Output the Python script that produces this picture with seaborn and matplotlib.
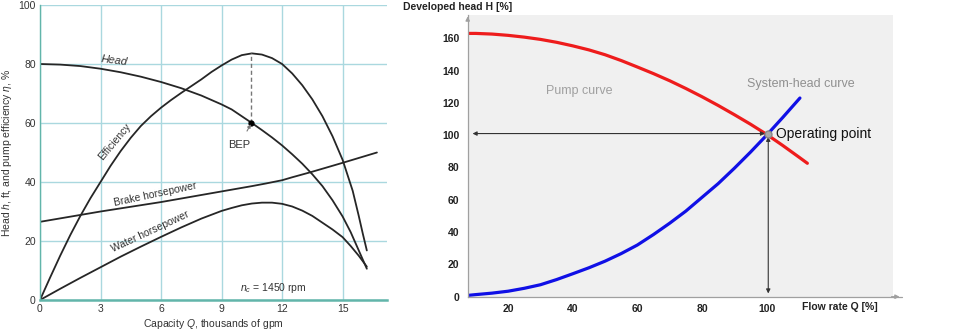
import matplotlib
matplotlib.use("Agg")
import matplotlib.pyplot as plt
import seaborn as sns

# --- Left panel: pump characteristics (Q in thousands of gpm) ---
HEAD_Q = [0, 1, 2, 3, 4, 5, 6, 7, 8, 9, 9.5, 10, 10.5, 11, 11.5, 12, 12.5, 13, 13.5, 14,
          14.5, 15, 15.4, 15.8, 16.2]
HEAD = [80, 79.8, 79.3, 78.4, 77.2, 75.7, 73.9, 71.8, 69.3, 66.3, 64.6, 62.3, 60, 57.6, 55.1,
        52.4, 49.4, 46.2, 42.6, 38.6, 33.8, 28.3, 23, 16.8, 10.6]

EFF_Q = [0, 0.5, 1, 1.5, 2, 2.5, 3, 3.5, 4, 4.5, 5, 5.5, 6, 6.5, 7, 7.5, 8, 8.5, 9, 9.5,
         10, 10.5, 11, 11.5, 12, 12.5, 13, 13.5, 14, 14.5, 15, 15.5, 15.8, 16.0, 16.2]
EFF = [0, 7.6, 15, 22, 28.5, 34.5, 40, 45.5, 50.5, 55, 59, 62.3, 65.2, 67.8, 70.2, 72.5,
       74.8, 77.3, 79.5, 81.5, 83, 83.6, 83.2, 82, 80, 76.8, 72.8, 68, 62.3, 55.5, 47.5, 37,
       28.5, 22.5, 16.8]

BHP_Q = [0, 2.06, 3, 6, 9, 10.5, 11.2, 12, 12.5, 13.4, 15, 16.7]
BHP = [26.5, 28.9, 30, 33.2, 36.8, 38.6, 39.5, 40.6, 41.6, 43.3, 46.5, 50]

WHP_Q = [0, 1, 2, 3, 4, 5, 6, 7, 8, 9, 9.5, 10, 10.5, 11, 11.5, 12, 12.5, 13, 13.5, 14,
         14.5, 15, 15.4, 15.8, 16.2]
WHP = [0, 3.8, 7.5, 11.1, 14.7, 18.1, 21.4, 24.6, 27.6, 30.2, 31.2, 32.1, 32.7, 33, 33,
       32.6, 31.7, 30.3, 28.5, 26.2, 23.9, 21.3, 18.3, 15, 11.3]

BEP_Q, BEP_HEAD, BEP_EFF = 10.48, 60, 83.6
LEFT_XTICKS = [0, 3, 6, 9, 12, 15]
LEFT_YTICKS = [0, 20, 40, 60, 80, 100]

# --- Right panel: pump curve vs system-head curve (%) ---
PUMP_Q = [7.5, 10, 15, 20, 25, 30, 35, 40, 45, 50, 55, 60, 65, 70, 75, 80, 85, 90, 95,
          100, 105, 110, 112.6]
PUMP_H = [163, 163, 162.6, 161.8, 160.7, 159.3, 157.5, 155.3, 152.8, 149.8, 146.2, 142.2,
          138.1, 133.7, 128.9, 123.8, 118.4, 112.7, 106.8, 100.5, 93.6, 86.4, 82.6]

SYS_Q = [7.5, 10, 15, 20, 25, 30, 35, 40, 45, 50, 55, 60, 65, 70, 75, 80, 85, 90, 95,
         100, 105, 110.3]
SYS_H = [0.8, 1.3, 2.2, 3.4, 5.2, 7.4, 10.6, 14.2, 17.9, 22, 26.7, 32, 38.5, 45.5, 53,
         61.5, 70, 79.5, 89.5, 100, 111, 123]

OP_Q, OP_H = 100.5, 101
RIGHT_XTICKS = [20, 40, 60, 80, 100]
RIGHT_YTICKS = [0, 20, 40, 60, 80, 100, 120, 140, 160]

sns.set_style("white")
plt.rcParams['font.family'] = ['Liberation Sans', 'DejaVu Sans']
plt.rcParams['mathtext.fontset'] = 'custom'
plt.rcParams['mathtext.rm'] = 'Liberation Sans'
plt.rcParams['mathtext.it'] = 'Liberation Sans:italic'
plt.rcParams['lines.solid_joinstyle'] = 'round'

fig = plt.figure(figsize=(9.7, 3.34), dpi=100)

# ---------------- Left panel ----------------
teal = '#62b5aa'
grid_col = '#aad8df'
txt = '#333333'
curve = '#262626'

ax1 = fig.add_axes([40 / 970, 34 / 334, 347 / 970, 295 / 334])
ax1.set_axisbelow(True)
for xv in LEFT_XTICKS:
    ax1.axvline(xv, color=grid_col, lw=1.0, zorder=0)
for yv in LEFT_YTICKS:
    ax1.axhline(yv, color=grid_col, lw=1.0, zorder=0)

for qs, vs in [(HEAD_Q, HEAD), (EFF_Q, EFF), (BHP_Q, BHP), (WHP_Q, WHP)]:
    sns.lineplot(x=qs, y=vs, ax=ax1, color=curve, linewidth=1.3)

ax1.plot([BEP_Q, BEP_Q], [BEP_HEAD, BEP_EFF], color='#777777', lw=1.0, ls=(0, (3, 2)))
ax1.plot([BEP_Q], [BEP_HEAD], 'o', color='black', ms=3.5)
ax1.annotate('BEP', xy=(BEP_Q, BEP_HEAD), xytext=(9.87, 52.4), ha='center', va='center',
             fontsize=8, color=txt,
             arrowprops=dict(arrowstyle='-|>', color='#777777', lw=0.8, shrinkA=5, shrinkB=1,
                             mutation_scale=5))

ax1.text(3.7, 81, 'Head', fontsize=8, style='italic', color=txt, rotation=-7,
         ha='center', va='center')
ax1.text(3.7, 53.5, 'Efficiency', fontsize=7.5, color=txt, rotation=50,
         ha='center', va='center')
ax1.text(5.73, 35.8, 'Brake horsepower', fontsize=7.5, color=txt, rotation=12,
         ha='center', va='center')
ax1.text(5.48, 23.3, 'Water horsepower', fontsize=7.5, color=txt, rotation=25,
         ha='center', va='center')
ax1.text(11.55, 4.2, '$n_c$ = 1450 rpm', fontsize=7.5, color=txt, ha='center', va='center')

ax1.set_xlim(0, 17.2)
ax1.set_ylim(0, 100)
ax1.set_xticks(LEFT_XTICKS)
ax1.set_yticks(LEFT_YTICKS)
ax1.tick_params(direction='in', length=3, color=teal, labelsize=7.5, labelcolor=txt, pad=3)
for s in ['top', 'right']:
    ax1.spines[s].set_visible(False)
ax1.spines['left'].set_color(teal)
ax1.spines['left'].set_linewidth(1.0)
ax1.spines['bottom'].set_color(teal)
ax1.spines['bottom'].set_linewidth(1.8)
ax1.set_xlabel('Capacity $Q$, thousands of gpm', fontsize=7.5, color=txt, labelpad=2)
ax1.set_ylabel('Head $h$, ft, and pump efficiency $\\eta$, %', fontsize=7.5, color=txt, labelpad=3)

# ---------------- Right panel ----------------
ax2 = fig.add_axes([467.7 / 970, 37.3 / 334, (893 - 467.7) / 970, (296.7 - 15) / 334])
ax2.set_facecolor('#f0f0f0')

sns.lineplot(x=PUMP_Q, y=PUMP_H, ax=ax2, color='#ee1c1c', linewidth=2.3)
sns.lineplot(x=SYS_Q, y=SYS_H, ax=ax2, color='#1010e6', linewidth=2.3)

arrow_kw = dict(arrowstyle='<|-|>', color='#333333', lw=0.8, mutation_scale=6,
                shrinkA=0, shrinkB=0)
ax2.annotate('', xy=(9, OP_H), xytext=(OP_Q - 1, OP_H), arrowprops=arrow_kw)
ax2.annotate('', xy=(OP_Q, 2), xytext=(OP_Q, OP_H - 2), arrowprops=arrow_kw)
ax2.plot([OP_Q], [OP_H], 'o', color='#a8a8a8', mec='#888888', ms=5, zorder=5)
ax2.text(OP_Q + 2.5, OP_H, 'Operating point', fontsize=10, color='#111111',
         ha='left', va='center')

ax2.text(42, 127.5, 'Pump curve', fontsize=9, color='#a0a0a0', ha='center', va='center')
ax2.text(110.6, 131.5, 'System-head curve', fontsize=9, color='#909090', ha='center', va='center')

ax2.set_xlim(7.5, 139.1)
ax2.set_ylim(0, 174.4)
ax2.set_xticks(RIGHT_XTICKS)
ax2.set_yticks(RIGHT_YTICKS)
ax2.tick_params(axis='x', length=0, pad=5, labelsize=7.5)
ax2.tick_params(axis='y', length=3, color='#999999', pad=3, labelsize=7.5)
for lab in ax2.get_xticklabels() + ax2.get_yticklabels():
    lab.set_fontweight('bold')
    lab.set_color('#222222')
for s in ['top', 'right']:
    ax2.spines[s].set_visible(False)
for s in ['left', 'bottom']:
    ax2.spines[s].set_color('#a0a0a0')
    ax2.spines[s].set_linewidth(0.9)

# axis arrowheads
ax2.annotate('', xy=(1.022, 0), xytext=(0.99, 0), xycoords='axes fraction',
             arrowprops=dict(arrowstyle='-|>', color='#a0a0a0', lw=0.9, mutation_scale=6),
             annotation_clip=False)
ax2.annotate('', xy=(0, 1.005), xytext=(0, 0.97), xycoords='axes fraction',
             arrowprops=dict(arrowstyle='-|>', color='#a0a0a0', lw=0.9, mutation_scale=6),
             annotation_clip=False)
ax2.plot([1.0, 1.022], [0, 0], transform=ax2.transAxes, color='#a0a0a0', lw=0.9, clip_on=False)

fig.text(403 / 970, 1 - 6.7 / 334, 'Developed head H [%]', fontsize=7.5, fontweight='bold',
         color='#222222', ha='left', va='center')
fig.text(801.7 / 970, 1 - 307 / 334, 'Flow rate Q [%]', fontsize=7.5, fontweight='bold',
         color='#222222', ha='left', va='center')

fig.savefig('out.png', dpi=100)
